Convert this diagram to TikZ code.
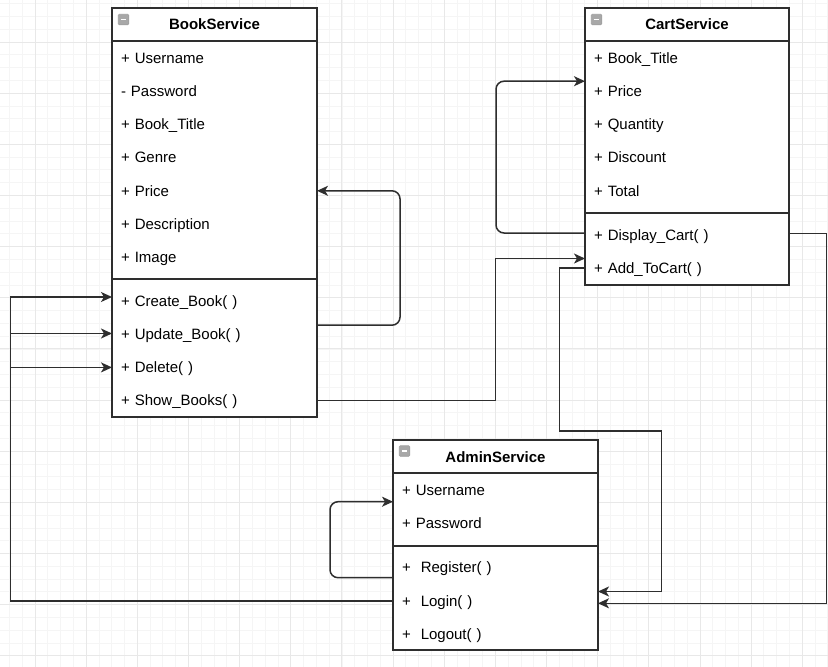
\documentclass[tikz,border=0pt]{standalone}
\usepackage{fontspec}
\setmainfont{Liberation Sans}
\usetikzlibrary{arrows.meta}
\definecolor{ink}{HTML}{2E2E2E}
\definecolor{gridminor}{HTML}{F5F5F5}
\definecolor{gridmajor}{HTML}{E8E8E8}
\definecolor{iconfill}{HTML}{A8A8A8}
\begin{document}
\begin{tikzpicture}[x=1pt,y=-1pt,
  classbox/.style={draw=ink, line width=1.5pt, fill=white, outer sep=0pt, inner sep=0pt, anchor=north west},
  sepline/.style={draw=ink, line width=1.5pt},
  row/.style={font=\fontsize{15}{18}\selectfont, inner xsep=9pt, inner ysep=0pt, text height=10.6pt, text depth=0pt, align=left, text width=187pt, outer sep=0pt},
  crow/.style={row, text width=186pt},
  head/.style={font=\fontsize{15}{18}\selectfont\bfseries, inner sep=0pt, text height=10.6pt, text depth=0pt},
  icon/.style={draw=gray!75, fill=iconfill, rounded corners=1pt, minimum size=10.5pt, inner sep=0pt, line width=0.6pt,
    path picture={\draw[white, line width=1.4pt] ([xshift=2.3pt]path picture bounding box.west) -- ([xshift=-2.3pt]path picture bounding box.east);}},
  conn/.style={draw=ink, line width=1.5pt, -{Stealth[length=11pt, width=10pt, inset=3pt]}},
  loop/.style={conn, rounded corners=8pt}
]
\useasboundingbox (0,0) rectangle (828,667);
\fill[white] (0,0) rectangle (828,667);

% background grid
\foreach \i in {-2,...,62}
  \draw[gridminor, line width=0.8pt] ({35+\i*12.7875},0) -- ++(0,667);
\foreach \i in {-3,...,49}
  \draw[gridminor, line width=0.8pt] (0,{42+\i*12.7875}) -- ++(828,0);
\foreach \i in {0,...,15}
  \draw[gridmajor, line width=0.9pt] ({35+\i*51.15},0) -- ++(0,667);
\foreach \i in {0,...,12}
  \draw[gridmajor, line width=0.9pt] (0,{42+\i*51.15}) -- ++(828,0);

% ---------------- BookService ----------------
\node[classbox, minimum width=205pt, minimum height=409pt] (book) at (112,8) {};
\draw[sepline] (book.west |- 0,41) -- (book.east |- 0,41);
\draw[sepline] (book.west |- 0,279) -- (book.east |- 0,279);
\node[icon] (bookicon) at (123.5,19.5) {};
\node[head] (bookh) at (214.5,24.5) {BookService};
\node[row] (bU)  at (214.5,58)    {+ Username};
\node[row] (bP)  at (214.5,91.2)  {- Password};
\node[row] (bT)  at (214.5,124.4) {+ Book\_Title};
\node[row] (bG)  at (214.5,157.6) {+ Genre};
\node[row] (bPr) at (214.5,190.8) {+ Price};
\node[row] (bD)  at (214.5,224)   {+ Description};
\node[row] (bI)  at (214.5,257.2) {+ Image};
\node[row] (bCreate) at (214.5,301)   {+ Create\_Book( )};
\node[row] (bUpdate) at (214.5,334.2) {+ Update\_Book( )};
\node[row] (bDelete) at (214.5,367.4) {+ Delete( )};
\node[row] (bShow)   at (214.5,400.6) {+ Show\_Books( )};

% ---------------- CartService ----------------
\node[classbox, minimum width=204pt, minimum height=277pt] (cart) at (585,8) {};
\draw[sepline] (cart.west |- 0,41) -- (cart.east |- 0,41);
\draw[sepline] (cart.west |- 0,213) -- (cart.east |- 0,213);
\node[icon] (carticon) at (596.5,19.5) {};
\node[head] (carth) at (687,24.5) {CartService};
\node[crow] (cT)   at (687,58)    {+ Book\_Title};
\node[crow] (cP)   at (687,91.2)  {+ Price};
\node[crow] (cQ)   at (687,124.4) {+ Quantity};
\node[crow] (cD)   at (687,157.6) {+ Discount};
\node[crow] (cTot) at (687,190.8) {+ Total};
\node[crow] (cDisp) at (687,235)  {+ Display\_Cart( )};
\node[crow] (cAdd)  at (687,268)  {+ Add\_ToCart( )};

% ---------------- AdminService ----------------
\node[classbox, minimum width=205pt, minimum height=210pt] (admin) at (393,440) {};
\draw[sepline] (admin.west |- 0,473) -- (admin.east |- 0,473);
\draw[sepline] (admin.west |- 0,546) -- (admin.east |- 0,546);
\node[icon] (adminicon) at (404.5,451) {};
\node[head] (adminh) at (495.5,457) {AdminService};
\node[row] (aU)   at (495.5,490) {+ Username};
\node[row] (aP)   at (495.5,523) {+ Password};
\node[row] (aReg) at (495.5,567) {+\ \ Register( )};
\node[row] (aLog) at (495.5,601) {+\ \ Login( )};
\node[row] (aOut) at (495.5,634) {+\ \ Logout( )};

% ---------------- connectors ----------------
% Update_Book back into Price
\draw[loop] ([yshift=9pt]bUpdate.east) -- ++(83,0) |- (bPr.east);
% Show_Books to Add_ToCart
\draw[conn] (bShow.east) -- ++(178.7,0) |- ([yshift=9.5pt]cAdd.west);
% Display_Cart back into the attributes
\draw[loop] ([yshift=2pt]cDisp.west) -- ++(-89,0) |- ([yshift=10pt]cP.west);
% Add_ToCart down to Login
\draw[conn] (cAdd.west) -- ++(-25.5,0) -- ++(0,163) -- ++(102,0) |- ([yshift=9.5pt]aLog.east);
% Display_Cart round the right side to Login
\draw[conn] ([yshift=1.5pt]cDisp.east) -- ++(37.5,0) |- ([yshift=-2.3pt]aLog.east);
% Login to the BookService operations
\draw[conn] (aLog.west) -- ++(-382.5,0) |- ([yshift=4pt]bCreate.west);
\draw[conn] (aLog.west) -- ++(-382.5,0) |- ([yshift=0.7pt]bUpdate.west);
\draw[conn] (aLog.west) -- ++(-382.5,0) |- (bDelete.west);
% Register back into Username
\draw[loop] ([yshift=-10.7pt]aReg.west) -- ++(-63,0) |- ([yshift=-11.7pt]aU.west);
\end{tikzpicture}
\end{document}
